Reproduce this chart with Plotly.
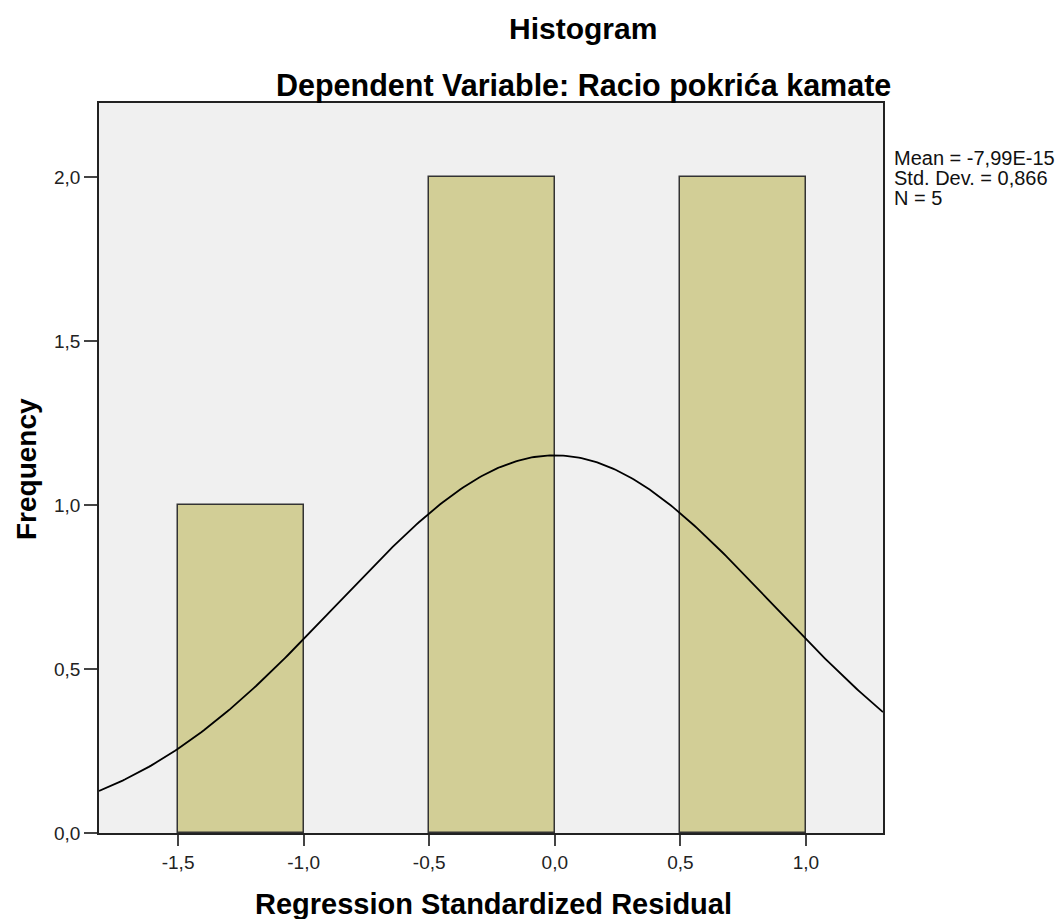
import numpy as np
import plotly.graph_objects as go

bin_left = [-1.5, -0.5, 0.5]
bin_width = 0.5
frequency = [1, 2, 2]
mean = -7.99e-15
std_dev = 0.866
n_obs = 5
x_range = [-1.815, 1.307]
y_range = [0, 2.226]
x_ticks = [-1.5, -1.0, -0.5, 0.0, 0.5, 1.0]
x_tick_labels = ["-1,5", "-1,0", "-0,5", "0,0", "0,5", "1,0"]
y_ticks = [0.0, 0.5, 1.0, 1.5, 2.0]
y_tick_labels = ["0,0", "0,5", "1,0", "1,5", "2,0"]
stats_lines = ["Mean = -7,99E-15", "Std. Dev. = 0,866", "N = 5"]

centers = [b + bin_width / 2 for b in bin_left]
xc = np.linspace(x_range[0], x_range[1], 300)
yc = n_obs * bin_width / (std_dev * np.sqrt(2 * np.pi)) * np.exp(-0.5 * ((xc - mean) / std_dev) ** 2)

fig = go.Figure()
fig.add_trace(go.Bar(x=centers, y=frequency, width=bin_width,
                     marker=dict(color="#D2CE96", line=dict(color="#333333", width=1.5)),
                     hoverinfo="skip"))
fig.add_trace(go.Scatter(x=xc, y=yc, mode="lines", line=dict(color="black", width=1.8),
                         hoverinfo="skip"))

W, H = 1062, 919
L, R, T, B = 99, 883, 103, 833
pw, ph = R - L, B - T
def px(x): return (x - L) / pw
def py(y): return (B - y) / ph

font = "Liberation Sans, Arial, sans-serif"
annotations = []
def add(text, x, y, size, xanchor="center", angle=0, color="black"):
    annotations.append(dict(text=text, x=px(x), y=py(y), xref="paper", yref="paper",
                            xanchor=xanchor, yanchor="middle", showarrow=False,
                            textangle=angle, borderpad=0,
                            font=dict(family=font, size=size, color=color)))

add("<b>Histogram</b>", 583, 28, 30)
add("<b>Dependent Variable: Racio pokrića kamate</b>", 583, 85, 30.5)
add("<b>Regression Standardized Residual</b>", 493, 904, 29)
add("<b>Frequency</b>", 26, 469, 28, angle=-90)
for i, line in enumerate(stats_lines):
    add(line, 893, 158 + 20 * i, 20, xanchor="left", color="#111")

fig.update_layout(
    width=W, height=H,
    margin=dict(l=L, r=W - R, t=T, b=H - B, pad=0),
    paper_bgcolor="white", plot_bgcolor="#F0F0F0",
    showlegend=False, bargap=0,
    annotations=annotations,
    font=dict(family=font, size=19, color="black"),
)
fig.update_xaxes(range=x_range, tickvals=x_ticks, ticktext=x_tick_labels, ticks="outside",
                 ticklen=11, tickcolor="#444", tickwidth=2, showgrid=False, zeroline=False,
                 showline=True, linecolor="#222", linewidth=1.5, mirror=True,
                 tickfont=dict(size=19, color="#222"))
fig.update_yaxes(range=y_range, tickvals=y_ticks, ticktext=y_tick_labels, ticks="outside",
                 ticklen=13, tickcolor="#444", tickwidth=2, showgrid=False, zeroline=False,
                 showline=True, linecolor="#222", linewidth=1.5, mirror=True,
                 tickfont=dict(size=19, color="#222"))

fig.write_html("out.html", config={"displayModeBar": False})
with open("out.html", encoding="utf-8") as f:
    html = f.read()
html = html.replace("<body>", '<body style="margin:0;padding:0;overflow:hidden">', 1)
with open("out.html", "w", encoding="utf-8") as f:
    f.write(html)
